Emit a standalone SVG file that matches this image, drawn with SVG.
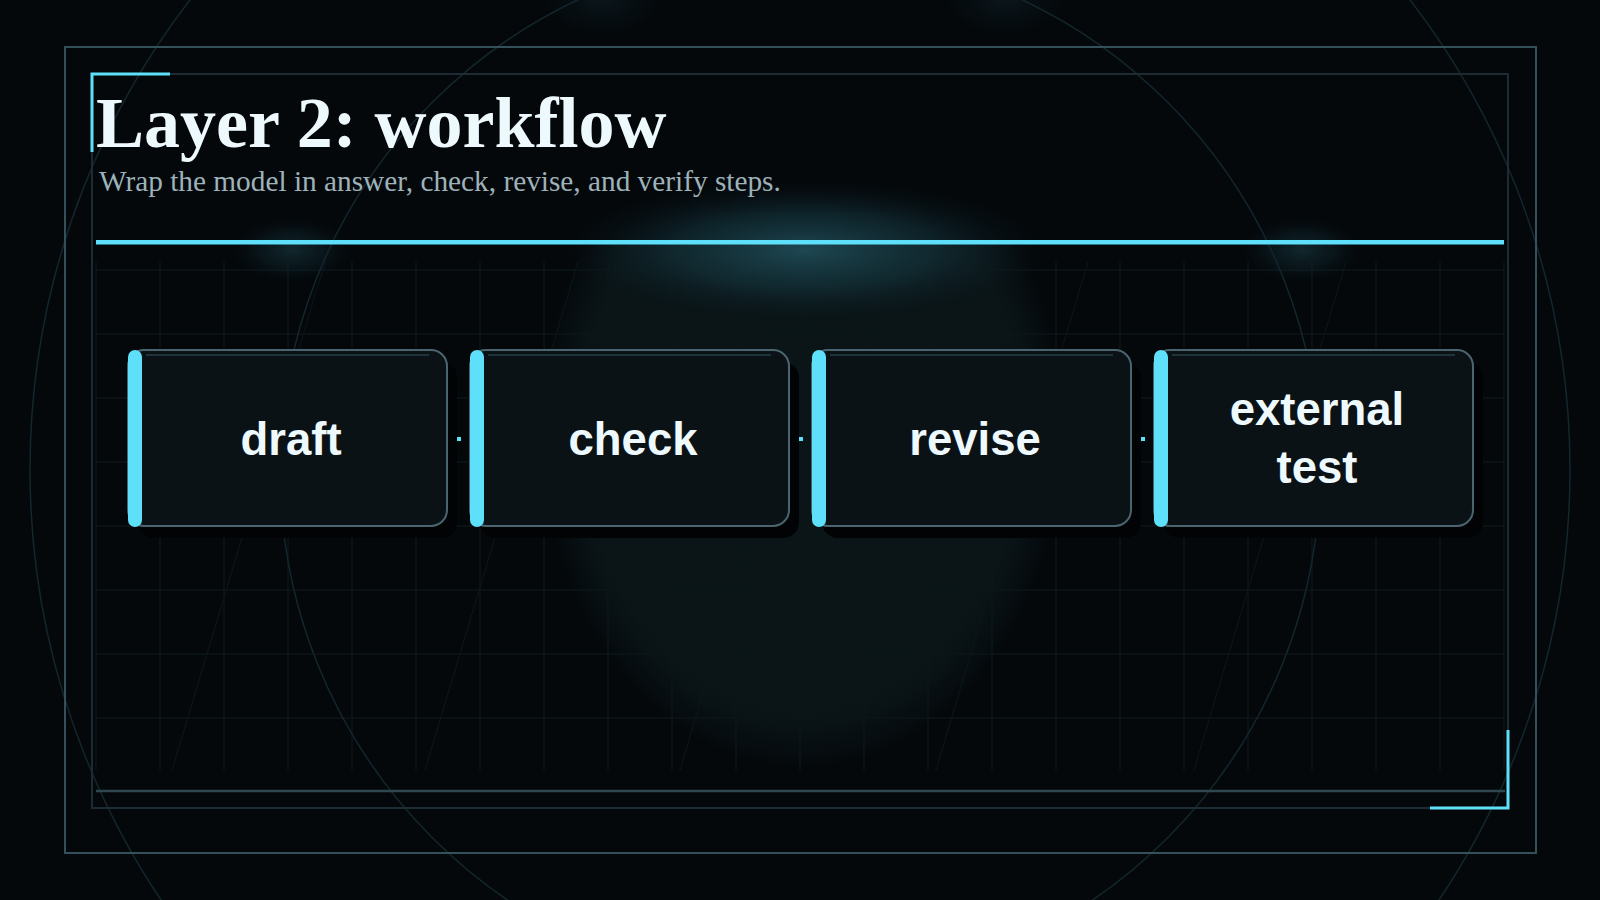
<svg xmlns="http://www.w3.org/2000/svg" width="1600" height="900" viewBox="0 0 1600 900">
  <defs>
    <radialGradient id="glow" cx="50%" cy="50%" r="50%">
      <stop offset="0" stop-color="#1f4a55" stop-opacity="0.95"/>
      <stop offset="0.55" stop-color="#153740" stop-opacity="0.55"/>
      <stop offset="1" stop-color="#0a1a20" stop-opacity="0"/>
    </radialGradient>
    <radialGradient id="faint" cx="50%" cy="50%" r="50%">
      <stop offset="0" stop-color="#10222a" stop-opacity="0.55"/>
      <stop offset="1" stop-color="#0a1a20" stop-opacity="0"/>
    </radialGradient>
    <radialGradient id="blobfill" cx="50%" cy="50%" r="50%">
      <stop offset="0" stop-color="#0b1619" stop-opacity="0.92"/>
      <stop offset="0.84" stop-color="#0b1619" stop-opacity="0.9"/>
      <stop offset="0.93" stop-color="#0b1619" stop-opacity="0.45"/>
      <stop offset="1" stop-color="#0b1619" stop-opacity="0"/>
    </radialGradient>
    <clipPath id="below">
      <rect x="0" y="244" width="1600" height="656"/>
    </clipPath>
    <style>
      .grid { stroke: #0f1b20; stroke-width: 1; fill: none; }
      .diag { stroke: #0c171c; stroke-width: 1; fill: none; }
      .ring { stroke: #14262d; stroke-width: 1.5; fill: none; }
      .accent { stroke: #5fe0fa; stroke-width: 3; fill: none; }
      .shadow { fill: #010304; }
      .box { fill: #0b1215; stroke: #4b6570; stroke-width: 2; }
      .hl { stroke: #20323a; stroke-width: 2; }
      .bar { fill: #5fe0fa; }
      .label { font-family: "Liberation Sans", Arial, sans-serif; font-weight: bold; font-size: 45.5px; fill: #eef9fd; text-anchor: middle; }
      .conn { stroke: #5fe0fa; stroke-width: 4; fill: none; }
    </style>
  </defs>

  <!-- background -->
  <rect x="0" y="0" width="1600" height="900" fill="#04080b"/>
  <ellipse cx="602" cy="0" rx="60" ry="35" fill="url(#faint)"/>
  <ellipse cx="1005" cy="0" rx="60" ry="35" fill="url(#faint)"/>

  <!-- grid -->
  <g id="grid">
    <path class="grid" d="M96 262V770M160 262V770M224 262V770M288 262V770M352 262V770M416 262V770M480 262V770M544 262V770M608 262V770M672 262V770M736 262V770M800 262V770M864 262V770M928 262V770M992 262V770M1056 262V770M1120 262V770M1184 262V770M1248 262V770M1312 262V770M1376 262V770M1440 262V770M1504 262V770"/>
    <path class="grid" d="M96 270H1504M96 334H1504M96 398H1504M96 462H1504M96 526H1504M96 590H1504M96 654H1504M96 718H1504"/>
    <path class="diag" d="M325 262L172 770M578 262L425 770M831 262L680 770M1088 262L936 770M1346 262L1194 770"/>
  </g>

  <!-- central blob and glows -->
  <g clip-path="url(#below)">
    <ellipse cx="802" cy="430" rx="262" ry="338" fill="url(#blobfill)"/>
  </g>
  <ellipse cx="805" cy="250" rx="240" ry="70" fill="url(#glow)"/>
  <ellipse cx="292" cy="250" rx="60" ry="32" fill="url(#glow)" opacity="0.5"/>
  <ellipse cx="1302" cy="250" rx="60" ry="32" fill="url(#glow)" opacity="0.5"/>

  <!-- rings -->
  <circle class="ring" cx="800" cy="470" r="770"/>
  <circle class="ring" cx="800" cy="470" r="520"/>

  <!-- frames -->
  <rect x="65" y="47" width="1471" height="806" fill="none" stroke="#34505a" stroke-width="2"/>
  <rect x="92" y="74" width="1416" height="734" fill="none" stroke="#1d2c32" stroke-width="2"/>
  <path class="accent" d="M92 152V74H170"/>
  <path class="accent" d="M1508 730V808H1430"/>
  <line x1="96" y1="791" x2="1505" y2="791" stroke="#2f4751" stroke-width="2.5"/>

  <!-- header -->
  <text x="96" y="147" font-family="'Liberation Serif', 'Times New Roman', serif" font-weight="bold" font-size="72" fill="#eef9fd">Layer 2: workflow</text>
  <text x="99" y="191" font-family="'Liberation Serif', 'Times New Roman', serif" font-size="29.3" fill="#9db2ba">Wrap the model in answer, check, revise, and verify steps.</text>
  <rect x="96" y="240" width="1408" height="4.5" fill="#5fe0fa"/>

  <!-- connectors -->
  <g id="connectors">
    <path class="conn" d="M457 439H461"/>
    <path class="conn" d="M799 439H803"/>
    <path class="conn" d="M1141 439H1145"/>
  </g>

  <!-- nodes -->
  <g id="node-draft">
    <rect class="shadow" x="138" y="362" width="319" height="176" rx="16"/>
    <rect class="box" x="128" y="350" width="319" height="176" rx="16"/>
    <line class="hl" x1="146" y1="355" x2="429" y2="355"/>
    <rect class="bar" x="128" y="350" width="14" height="177" rx="7"/>
    <text class="label" x="291" y="455">draft</text>
  </g>
  <g id="node-check">
    <rect class="shadow" x="480" y="362" width="319" height="176" rx="16"/>
    <rect class="box" x="470" y="350" width="319" height="176" rx="16"/>
    <line class="hl" x1="488" y1="355" x2="771" y2="355"/>
    <rect class="bar" x="470" y="350" width="14" height="177" rx="7"/>
    <text class="label" x="633" y="455">check</text>
  </g>
  <g id="node-revise">
    <rect class="shadow" x="822" y="362" width="319" height="176" rx="16"/>
    <rect class="box" x="812" y="350" width="319" height="176" rx="16"/>
    <line class="hl" x1="830" y1="355" x2="1113" y2="355"/>
    <rect class="bar" x="812" y="350" width="14" height="177" rx="7"/>
    <text class="label" x="975" y="455">revise</text>
  </g>
  <g id="node-external-test">
    <rect class="shadow" x="1164" y="362" width="319" height="176" rx="16"/>
    <rect class="box" x="1154" y="350" width="319" height="176" rx="16"/>
    <line class="hl" x1="1172" y1="355" x2="1455" y2="355"/>
    <rect class="bar" x="1154" y="350" width="14" height="177" rx="7"/>
    <text class="label" x="1317" y="425">external</text>
    <text class="label" x="1317" y="483">test</text>
  </g>
</svg>
